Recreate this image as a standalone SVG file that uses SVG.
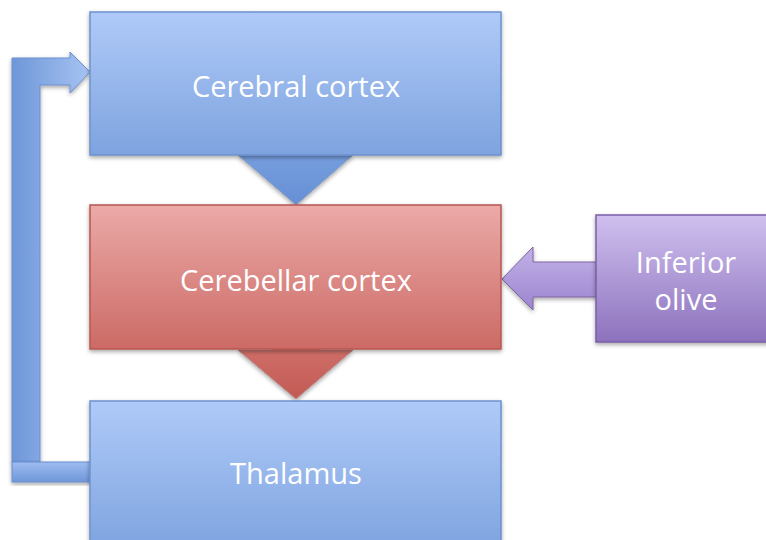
<svg xmlns="http://www.w3.org/2000/svg" width="766" height="540" viewBox="0 0 766 540">
<defs>
<linearGradient id="gBlue" x1="0" y1="0" x2="0" y2="1"><stop offset="0" stop-color="#afcaf8"/><stop offset="1" stop-color="#7ea3df"/></linearGradient>
<linearGradient id="gRed" x1="0" y1="0" x2="0" y2="1"><stop offset="0" stop-color="#ebaaa8"/><stop offset="1" stop-color="#cc6a65"/></linearGradient>
<linearGradient id="gPurple" x1="0" y1="0" x2="0" y2="1"><stop offset="0" stop-color="#cfc0ef"/><stop offset="1" stop-color="#8d72bd"/></linearGradient>
<linearGradient id="gBlueArrow" x1="0" y1="0" x2="0" y2="1"><stop offset="0" stop-color="#7aa2e2"/><stop offset="1" stop-color="#6690d4"/></linearGradient>
<linearGradient id="gRedArrow" x1="0" y1="0" x2="0" y2="1"><stop offset="0" stop-color="#d3736d"/><stop offset="1" stop-color="#c25a54"/></linearGradient>
<linearGradient id="gPurpleArrow" x1="0" y1="0" x2="0" y2="1"><stop offset="0" stop-color="#c2b2e8"/><stop offset="1" stop-color="#9c84cf"/></linearGradient>
<linearGradient id="gLoop" x1="0" y1="0" x2="1" y2="0"><stop offset="0" stop-color="#6e97d8"/><stop offset="1" stop-color="#a7c3f2"/></linearGradient>
<linearGradient id="gBar" x1="0" y1="0" x2="0" y2="1"><stop offset="0" stop-color="#9ebcf0"/><stop offset="1" stop-color="#6f97d8"/></linearGradient>
<filter id="sh" x="-10%" y="-10%" width="120%" height="130%"><feDropShadow dx="0" dy="2" stdDeviation="2" flood-color="#000" flood-opacity="0.35"/></filter>
</defs>
<style>
.lbl{font-family:"Open Sans","Liberation Sans",sans-serif;font-size:29px;fill:#fff;text-anchor:middle}
.bb{fill:url(#gBlue);stroke:#6d91cf;stroke-width:1.5}
.rb{fill:url(#gRed);stroke:#b85752;stroke-width:1.5}
.pb{fill:url(#gPurple);stroke:#7a5fa8;stroke-width:1.5}
</style>
<g id="connectors">
<path d="M12,462 L12,58 L70,58 L70,52 L90,72 L70,93 L70,85 L40,85 L40,462 Z" fill="url(#gLoop)" stroke="#6a8fcf" stroke-width="1" filter="url(#sh)"/>
<rect x="12" y="462" width="80" height="20" fill="url(#gBar)" stroke="#6a8fcf" stroke-width="1" filter="url(#sh)"/>
<path d="M272,140 L320,140 L320,155 L353,155 L296,205 L238,155 L272,155 Z" fill="url(#gBlueArrow)" stroke="#8a9fc0" stroke-width="1" filter="url(#sh)"/>
<path d="M272,335 L320,335 L320,350 L353,350 L296,399 L238,350 L272,350 Z" fill="url(#gRedArrow)" stroke="#b88a88" stroke-width="1" filter="url(#sh)"/>
<path d="M600,262 L533,262 L533,247 L502,279 L533,310 L533,297 L600,297 Z" fill="url(#gPurpleArrow)" stroke="#8064a2" stroke-width="1" filter="url(#sh)"/>
</g>
<g id="cerebral">
<rect class="bb" x="90" y="12" width="411" height="143" filter="url(#sh)"/>
<text class="lbl" x="296" y="97">Cerebral cortex</text>
</g>
<g id="cerebellar">
<rect class="rb" x="90" y="205" width="411" height="144" filter="url(#sh)"/>
<text class="lbl" x="296" y="291">Cerebellar cortex</text>
</g>
<g id="thalamus">
<rect class="bb" x="90" y="401" width="411" height="150" filter="url(#sh)"/>
<text class="lbl" x="296" y="484">Thalamus</text>
</g>
<g id="olive">
<rect class="pb" x="596" y="215" width="180" height="127" filter="url(#sh)"/>
<text class="lbl" x="686" y="273">Inferior</text>
<text class="lbl" x="686" y="310">olive</text>
</g>
</svg>
